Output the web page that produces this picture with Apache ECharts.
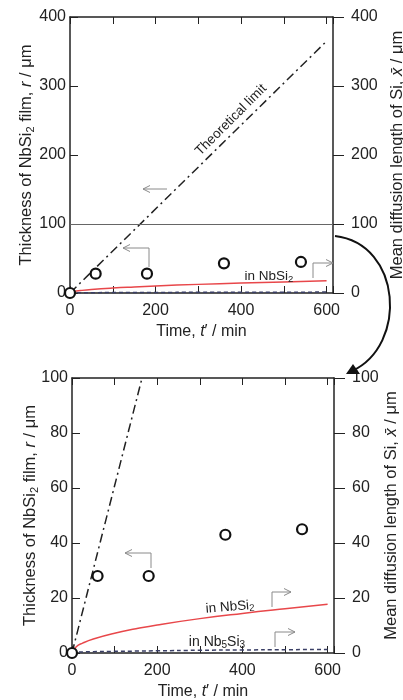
<!DOCTYPE html>
<html>
<head>
<meta charset="utf-8">
<script src="https://cdn.jsdelivr.net/npm/echarts@6/dist/echarts.min.js"></script>
<style>
  html, body { margin: 0; padding: 0; background: #fff; }
  #chart { width: 403px; height: 700px; }
</style>
</head>
<body>
<div id="chart"></div>
<script>
// measured NbSi2 film thickness (circles)
const expTime = [0, 60, 180, 360, 540]
const expThick = [0, 28, 28, 43, 45]

// theoretical limit (dash-dot line)
const theoTime = [0, 600]
const theoThick = [0, 365]

// mean diffusion length of Si
const calcTime = [0, 10, 25, 50, 100, 150, 200, 300, 400, 500, 600]
const lenNbSi2 = [0, 2.3, 3.6, 5.1, 7.2, 8.8, 10.2, 12.5, 14.4, 16.1, 17.7]
const lenNb5Si3 = [0, 0.3, 0.4, 0.5, 0.6, 0.7, 0.8, 1.0, 1.1, 1.2, 1.3]

const xTicks = [0, 200, 400, 600]
const yMaxTop = 400
const yMaxBottom = 100

const FONT = '"Liberation Sans", Arial, sans-serif'
const zip = (a, b) => a.map((v, i) => [v, b[i]])

const chart = echarts.init(document.getElementById('chart'))

const sub = { fontSize: 11, fontFamily: FONT, color: '#222', padding: [8, 0, 0, 0] }
const ital = { fontSize: 16.5, fontFamily: FONT, color: '#222', fontStyle: 'italic' }

const xAxisBase = (grid, top) => ({
  type: 'value',
  gridIndex: grid,
  position: top ? 'top' : 'bottom',
  min: 0,
  max: 615,
  interval: 100,
  axisLine: { show: true, onZero: false, lineStyle: { color: '#222', width: 1.5 } },
  axisTick: { show: true, inside: true, length: 7, lineStyle: { color: '#222' } },
  axisLabel: {
    show: !top,
    margin: 10,
    fontSize: 16,
    fontFamily: FONT,
    color: '#222',
    formatter: v => (xTicks.includes(v) ? String(v) : '')
  },
  splitLine: { show: false },
  name: top ? '' : 'Time, {i|t}\u2032 / min',
  nameLocation: 'middle',
  nameGap: 31,
  nameMoveOverlap: false,
  nameTextStyle: { fontSize: 16, fontFamily: FONT, color: '#222', rich: { i: { ...ital, fontSize: 16 } } }
})

const leftName = 'Thickness of NbSi{s|2} film, {i|r} / \u03bcm'
const rightName = 'Mean diffusion length of Si, {i|x\u0304} / \u03bcm'

const yAxisBase = (grid, right, max, step) => ({
  type: 'value',
  gridIndex: grid,
  position: right ? 'right' : 'left',
  min: 0,
  max: max,
  interval: step,
  axisLine: { show: true, onZero: false, lineStyle: { color: '#222', width: 1.5 } },
  axisTick: { show: true, inside: !right, length: right ? 11 : 8, lineStyle: { color: '#222' } },
  axisLabel: { margin: right ? 18 : 4, fontSize: 16, fontFamily: FONT, color: '#222' },
  splitLine: { show: false },
  name: right ? rightName : leftName,
  nameLocation: 'middle',
  nameGap: right ? (grid === 0 ? 56 : 49) : (grid === 0 ? 34 : 32),
  nameMoveOverlap: false,
  nameRotate: 90,
  nameTextStyle: { fontSize: 16.5, fontFamily: FONT, color: '#222', rich: { s: sub, i: ital } }
})

const seriesFor = (grid, withLimitLine) => {
  const xi = grid * 2
  const yl = grid * 2
  const yr = grid * 2 + 1
  const list = [
    {
      type: 'line',
      xAxisIndex: xi,
      yAxisIndex: yl,
      data: zip(theoTime, theoThick),
      symbol: 'none',
      lineStyle: { color: '#222', width: 1.5, type: [9, 4, 2, 4] },
      markLine: withLimitLine ? {
        silent: true,
        symbol: 'none',
        label: { show: false },
        lineStyle: { color: '#666', width: 1, type: 'solid' },
        data: [{ yAxis: 100 }]
      } : undefined,
      z: 3
    },
    {
      type: 'line',
      xAxisIndex: xi,
      yAxisIndex: yr,
      data: zip(calcTime, lenNb5Si3),
      symbol: 'none',
      smooth: true,
      lineStyle: { color: '#3a3f66', width: 1.5, type: [4, 3] },
      z: 3
    },
    {
      type: 'line',
      xAxisIndex: xi,
      yAxisIndex: yr,
      data: zip(calcTime, lenNbSi2),
      symbol: 'none',
      smooth: true,
      lineStyle: { color: '#e8474a', width: 1.5 },
      z: 4
    },
    {
      type: 'scatter',
      xAxisIndex: xi,
      yAxisIndex: yl,
      data: zip(expTime, expThick),
      symbol: 'circle',
      symbolSize: 10,
      itemStyle: { color: '#fff', borderColor: '#111', borderWidth: 2.2, opacity: 1 },
      z: 5
    }
  ]
  return list
}

// small open arrows used as annotations
const GRAY = '#8a8a8a'
const arrow = (pts) => {
  const n = pts.length
  const [x2, y2] = pts[n - 1]
  const [x1, y1] = pts[n - 2]
  const len = Math.hypot(x2 - x1, y2 - y1)
  const ux = (x2 - x1) / len
  const uy = (y2 - y1) / len
  const h = 7
  const w = 3.5
  const head = [
    [x2 - ux * h - uy * w, y2 - uy * h + ux * w],
    [x2, y2],
    [x2 - ux * h + uy * w, y2 - uy * h - ux * w]
  ]
  return [
    { type: 'polyline', shape: { points: pts }, style: { stroke: GRAY, lineWidth: 1, fill: null }, z: 10 },
    { type: 'polyline', shape: { points: head }, style: { stroke: GRAY, lineWidth: 1, fill: null }, z: 10 }
  ]
}

const label = (x, y, text, size, rot) => ({
  type: 'text',
  x: x,
  y: y,
  rotation: rot || 0,
  z: 10,
  style: {
    text: text,
    fontSize: size,
    fontFamily: FONT,
    fill: '#222',
    align: 'center',
    verticalAlign: 'middle',
    rich: {
      s: { fontSize: size - 4, fontFamily: FONT, fill: '#222', padding: [6, 0, 0, 0] }
    }
  }
})

const graphics = [
  ...arrow([[167, 189], [143, 189]]),
  ...arrow([[149, 267], [149, 248], [123, 248]]),
  ...arrow([[313, 278], [313, 263], [333, 263]]),
  ...arrow([[151, 568], [151, 553], [125, 553]]),
  ...arrow([[272, 607], [272, 592], [291, 592]]),
  ...arrow([[275, 647], [275, 632], [295, 632]]),
  label(231, 120, 'Theoretical limit', 13.5, Math.PI / 4),
  label(269, 276, 'in NbSi{s|2}', 13.5),
  label(230, 607, 'in NbSi{s|2}', 13.5, 0.08),
  label(217, 642, 'in Nb{s|5}Si{s|3}', 14),
  {
    type: 'bezierCurve',
    shape: { x1: 335, y1: 236, cpx1: 402, cpy1: 244, cpx2: 408, cpy2: 345, x2: 352, y2: 371 },
    style: { stroke: '#111', lineWidth: 2, fill: null },
    z: 10
  },
  {
    type: 'polygon',
    shape: { points: [[346, 374], [360, 374], [353, 364]] },
    style: { fill: '#111' },
    z: 10
  }
]

const option = {
  animation: false,
  backgroundColor: '#fff',
  grid: [
    { left: 70, top: 17, width: 263, height: 276, containLabel: false, outerBoundsMode: 'none' },
    { left: 72, top: 378, width: 262, height: 275, containLabel: false, outerBoundsMode: 'none' }
  ],
  xAxis: [
    xAxisBase(0, false),
    xAxisBase(0, true),
    xAxisBase(1, false),
    xAxisBase(1, true)
  ],
  yAxis: [
    yAxisBase(0, false, yMaxTop, 100),
    yAxisBase(0, true, yMaxTop, 100),
    yAxisBase(1, false, yMaxBottom, 20),
    yAxisBase(1, true, yMaxBottom, 20)
  ],
  series: [...seriesFor(0, true), ...seriesFor(1, false)],
  graphic: graphics
}

chart.setOption(option)
</script>
</body>
</html>
